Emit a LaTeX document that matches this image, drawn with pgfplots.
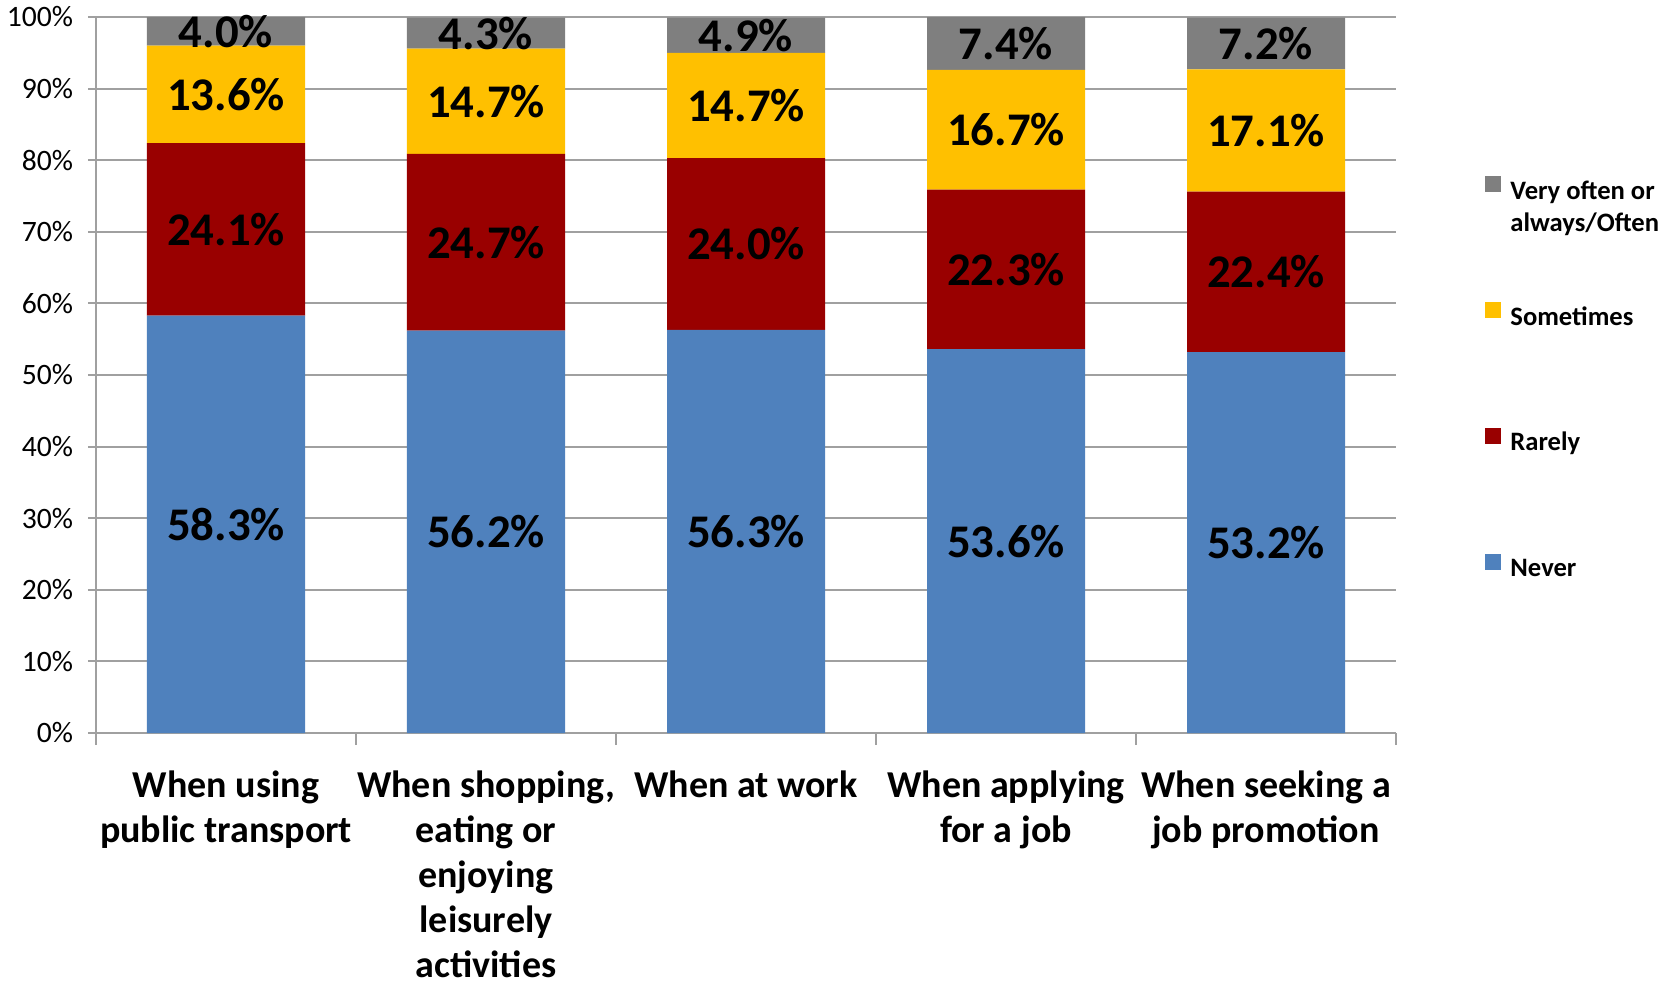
\documentclass[border=0pt]{standalone}
\usepackage{pgfplots}
\pgfplotsset{compat=1.18}
\usepackage{fontspec}
\setmainfont{Carlito}

\definecolor{never}{HTML}{4F81BD}
\definecolor{rarely}{HTML}{990000}
\definecolor{sometimes}{HTML}{FFC000}
\definecolor{often}{HTML}{7F7F7F}
\definecolor{axisgray}{HTML}{A0A0A0}

\pgfplotsset{
  base/.style={
    width=650pt, height=358pt, scale only axis,
    xmin=0.5, xmax=5.5, ymin=0, ymax=100,
    /pgf/number format/assume math mode=true,
  }
}

\begin{document}
\begin{tikzpicture}
\useasboundingbox (-48pt,-124pt) rectangle (789.5pt,366.5pt);
\begin{axis}[base,
  ybar stacked, bar width=79pt,
  axis x line*=bottom, axis y line*=left,
  axis line style={axisgray, line width=1pt},
  ymajorgrids, grid style={axisgray, line width=1pt},
  tick style={axisgray, line width=1pt},
  tick align=outside,
  major tick length=4pt, minor tick length=6pt,
  ytick={0,10,...,100},
  yticklabel={\pgfmathprintnumber{\tick}\%},
  yticklabel style={font=\fontsize{14.8}{16}\selectfont, xshift=-4pt},
  xtick={1,...,5},
  minor xtick={0.5,1.5,...,5.5},
  major x tick style={draw=none},
  xticklabels={{When using\\public transport},
               {When shopping,\\eating or\\enjoying\\leisurely\\activities},
               {When at work},
               {When applying\\for a job},
               {When seeking a\\job promotion}},
  xticklabel style={align=center, anchor=north, yshift=-11.2pt,
    font=\bfseries\fontsize{19}{22.6}\selectfont},
  reverse legend,
  legend style={draw=none, fill=none, at={(1.0685,0.778)}, anchor=north west,
    inner sep=0pt, column sep=4.5pt, row sep=48.4pt,
    font=\bfseries\fontsize{13.3}{16}\selectfont,
    nodes={inner sep=0pt, text height=10pt, text depth=3pt}},
  legend cell align=left,
  legend image code/.code={\fill[#1] (0pt,0pt) rectangle (8pt,8pt);},
]
\addplot[fill=never, draw=none] coordinates {(1,58.3) (2,56.2) (3,56.3) (4,53.6) (5,53.2)};
\addlegendentry{Never}
\addplot[fill=rarely, draw=none] coordinates {(1,24.1) (2,24.7) (3,24.0) (4,22.3) (5,22.4)};
\addlegendentry{Rarely}
\addplot[fill=sometimes, draw=none] coordinates {(1,13.6) (2,14.7) (3,14.7) (4,16.7) (5,17.1)};
\addlegendentry{Sometimes}
\addplot[fill=often, draw=none] coordinates {(1,4.0) (2,4.3) (3,4.9) (4,7.4) (5,7.2)};
\addlegendentry{\smash{\begin{tabular}[t]{@{}l@{}}Very often or\\always/Often\end{tabular}}}
\end{axis}

% value labels, centred in each segment
\begin{axis}[base, hide axis, clip=false,
  point meta=explicit,
  nodes near coords={\pgfmathprintnumber[fixed,fixed zerofill,precision=1]{\pgfplotspointmeta}\%},
  every node near coord/.append style={anchor=center, text=black,
    font=\bfseries\fontsize{23.4}{26}\selectfont},
]
\addplot[draw=none] table[x=x, y=y, meta=v] {
x y v
1 29.15 58.3
1 70.35 24.1
1 89.2 13.6
1 98.0 4.0
2 28.1 56.2
2 68.55 24.7
2 88.25 14.7
2 97.75 4.3
3 28.15 56.3
3 68.3 24.0
3 87.65 14.7
3 97.45 4.9
4 26.8 53.6
4 64.75 22.3
4 84.25 16.7
4 96.3 7.4
5 26.6 53.2
5 64.4 22.4
5 84.15 17.1
5 96.3 7.2
};
\end{axis}
\end{tikzpicture}
\end{document}
